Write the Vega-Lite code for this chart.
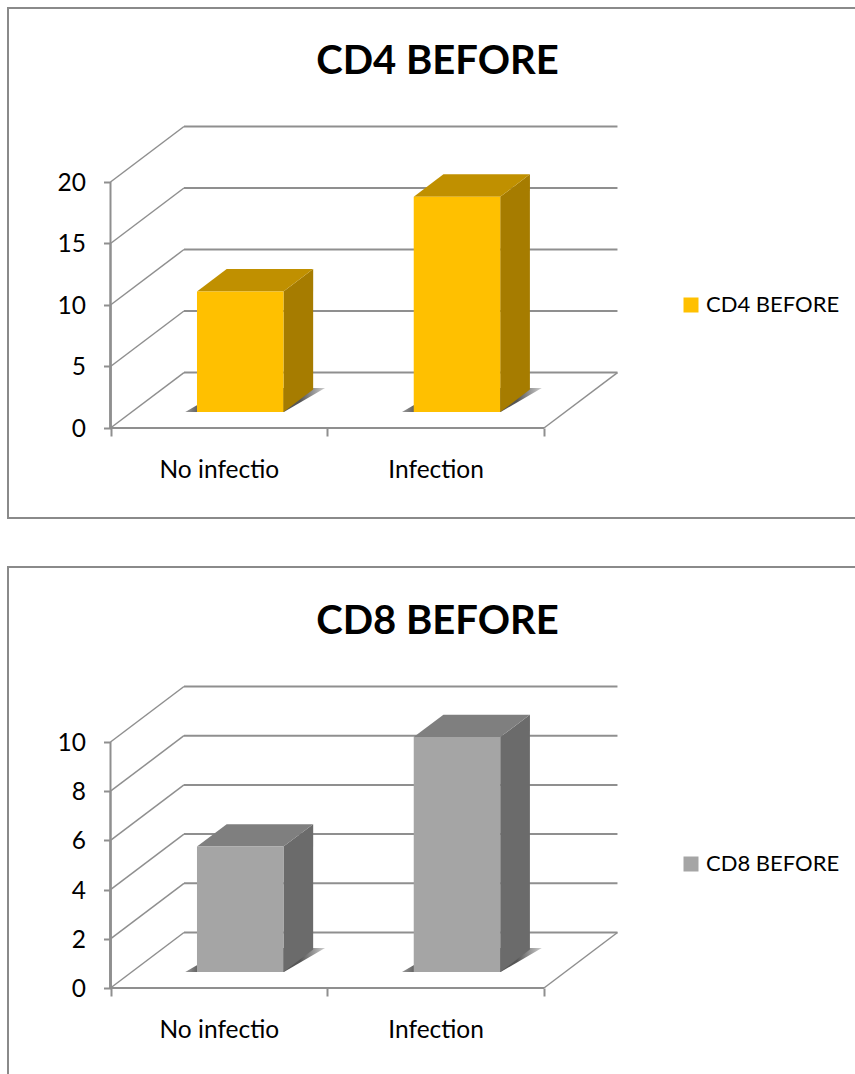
{
  "$schema": "https://vega.github.io/schema/vega-lite/v6.json",
  "padding": {"left": 7, "top": 7, "right": 0, "bottom": 0},
  "background": "white",
  "spacing": 47,
  "resolve": {"scale": {"color": "independent"}},
  "config": {
    "font": "Lato",
    "view": {"stroke": "#8a8a8a", "strokeWidth": 2},
    "axis": {"grid": false, "domain": false, "tickColor": "#8f8f8f", "tickWidth": 2, "labelColor": "#000000", "labelFont": "Lato", "labelFontSize": 24.5},
    "legend": {"title": null, "orient": "none", "symbolType": "square", "symbolSize": 225, "symbolStrokeWidth": 0, "labelFont": "Lato", "labelFontSize": 22, "labelColor": "#000000", "padding": 0},
    "title": {"font": "Lato", "fontSize": 40, "fontWeight": "bold", "color": "#000000", "frame": "group", "anchor": "middle"},
    "rule": {"color": "#8f8f8f", "strokeWidth": 2}
  },
  "datasets": {
    "cd4": [
      {"series": "CD4 BEFORE", "group": "No infectio", "value": 9.8},
      {"series": "CD4 BEFORE", "group": "Infection", "value": 17.5}
    ],
    "cd8": [
      {"series": "CD8 BEFORE", "group": "No infectio", "value": 5.1},
      {"series": "CD8 BEFORE", "group": "Infection", "value": 9.55}
    ],
    "cd4Ticks": [{"tick": 0}, {"tick": 5}, {"tick": 10}, {"tick": 15}, {"tick": 20}],
    "cd8Ticks": [{"tick": 0}, {"tick": 2}, {"tick": 4}, {"tick": 6}, {"tick": 8}, {"tick": 10}]
  },
  "vconcat": [
    {
      "width": 850,
      "height": 510,
      "title": {"text": "CD4 BEFORE", "offset": -74, "dx": 4.5},
      "layer": [
        {
          "data": {"name": "cd4Ticks"},
          "transform": [{"calculate": "0.339", "as": "bx0"}, {"calculate": "2.339", "as": "bx1"}, {"calculate": "datum.tick + 4.51", "as": "by"}],
          "mark": {"type": "rule"},
          "encoding": {
            "x": {"field": "bx0", "type": "quantitative", "scale": {"domain": [-0.4729, 3.4487], "nice": false, "zero": false},
              "axis": {"title": null, "orient": "bottom", "offset": -90, "values": [0, 0.5, 1, 1.5, 2], "tickSize": 8, "labelPadding": 34, "labelBaseline": "middle",
                "labelExpr": "datum.value === 0.5 ? 'No infectio' : datum.value === 1.5 ? 'Infection' : ''",
                "tickOpacity": {"condition": {"test": "datum.value % 1 === 0", "value": 1}, "value": 0}}},
            "x2": {"field": "bx1"},
            "y": {"field": "by", "type": "quantitative", "scale": {"domain": [-7.317, 34.146], "nice": false, "zero": false},
              "axis": {"title": null, "orient": "left", "offset": -102.5, "values": [0, 5, 10, 15, 20], "tickSize": 7, "labelPadding": 18, "labelOffset": 1.5}}
          }
        },
        {
          "data": {"name": "cd4Ticks"},
          "transform": [{"calculate": "0", "as": "fx"}, {"calculate": "0.339", "as": "bx"}, {"calculate": "datum.tick + 4.51", "as": "by"}],
          "mark": {"type": "rule", "strokeWidth": 1.5},
          "encoding": {
            "x": {"field": "fx", "type": "quantitative"},
            "x2": {"field": "bx"},
            "y": {"field": "tick", "type": "quantitative"},
            "y2": {"field": "by"}
          }
        },
        {
          "data": {"name": "cd4Ticks"},
          "transform": [{"filter": "datum.tick === 0"}, {"calculate": "2", "as": "fx"}, {"calculate": "2.339", "as": "bx"}, {"calculate": "datum.tick + 4.51", "as": "by"}],
          "mark": {"type": "rule", "strokeWidth": 1.5},
          "encoding": {
            "x": {"field": "fx", "type": "quantitative"},
            "x2": {"field": "bx"},
            "y": {"field": "tick", "type": "quantitative"},
            "y2": {"field": "by"}
          }
        },
        {
          "data": {"name": "cd4Ticks"},
          "transform": [{"filter": "datum.tick === 0"}, {"calculate": "0", "as": "x0"}, {"calculate": "2", "as": "x1"}],
          "mark": {"type": "rule"},
          "encoding": {
            "x": {"field": "x0", "type": "quantitative"},
            "x2": {"field": "x1"},
            "y": {"field": "tick", "type": "quantitative"}
          }
        },
        {
          "data": {"name": "cd4Ticks"},
          "transform": [{"calculate": "0", "as": "x0"}, {"calculate": "0", "as": "low"}],
          "mark": {"type": "rule"},
          "encoding": {
            "x": {"field": "x0", "type": "quantitative"},
            "y": {"field": "low", "type": "quantitative"},
            "y2": {"field": "tick"}
          }
        },
        {
          "data": {"name": "cd4"},
          "transform": [
            {"calculate": "datum.group === 'Infection' ? 1 : 0", "as": "slot"},
            {"calculate": "[0, 1]", "as": "step"},
            {"flatten": ["step"]},
            {"calculate": "datum.slot + 0.345 + datum.step * 0.19", "as": "sx0"},
            {"calculate": "datum.slot + 0.8 + datum.step * 0.19", "as": "sx1"},
            {"calculate": "1.3 + datum.step * 1.95", "as": "sy"}
          ],
          "mark": {"type": "area", "orient": "horizontal", "fill": {"x1": 0, "y1": 0, "x2": 1, "y2": 0, "gradient": "linear", "stops": [{"offset": 0, "color": "#9a9a9a"}, {"offset": 0.1, "color": "#5a5a5a"}, {"offset": 0.82, "color": "#555555"}, {"offset": 1, "color": "#d0d0d0"}]}},
          "encoding": {
            "y": {"field": "sy", "type": "quantitative"},
            "x": {"field": "sx0", "type": "quantitative"},
            "x2": {"field": "sx1"},
            "detail": {"field": "group"}
          }
        },
        {
          "data": {"name": "cd4"},
          "transform": [
            {"calculate": "datum.group === 'Infection' ? 1 : 0", "as": "slot"},
            {"calculate": "[0, 1]", "as": "step"},
            {"flatten": ["step"]},
            {"calculate": "datum.slot + 0.798 + datum.step * 0.137", "as": "sx"},
            {"calculate": "1.3 + datum.step * 1.82", "as": "low"},
            {"calculate": "1.3 + datum.value + datum.step * 1.82", "as": "high"}
          ],
          "mark": {"type": "area", "orient": "vertical", "fill": "#A67C00"},
          "encoding": {
            "x": {"field": "sx", "type": "quantitative"},
            "y": {"field": "low", "type": "quantitative"},
            "y2": {"field": "high"},
            "detail": {"field": "group"}
          }
        },
        {
          "data": {"name": "cd4"},
          "transform": [
            {"calculate": "datum.group === 'Infection' ? 1 : 0", "as": "slot"},
            {"calculate": "[0, 1]", "as": "step"},
            {"flatten": ["step"]},
            {"calculate": "datum.slot + 0.399 + datum.step * 0.137", "as": "tx0"},
            {"calculate": "datum.slot + 0.798 + datum.step * 0.137", "as": "tx1"},
            {"calculate": "1.3 + datum.value + datum.step * 1.82", "as": "ty"}
          ],
          "mark": {"type": "area", "orient": "horizontal", "fill": "#C09000"},
          "encoding": {
            "y": {"field": "ty", "type": "quantitative"},
            "x": {"field": "tx0", "type": "quantitative"},
            "x2": {"field": "tx1"},
            "detail": {"field": "group"}
          }
        },
        {
          "data": {"name": "cd4"},
          "transform": [
            {"calculate": "datum.group === 'Infection' ? 1 : 0", "as": "slot"},
            {"calculate": "datum.slot + 0.399", "as": "fx0"},
            {"calculate": "datum.slot + 0.798", "as": "fx1"},
            {"calculate": "1.3", "as": "low"},
            {"calculate": "1.3 + datum.value", "as": "high"}
          ],
          "mark": {"type": "rect"},
          "encoding": {
            "x": {"field": "fx0", "type": "quantitative"},
            "x2": {"field": "fx1"},
            "y": {"field": "low", "type": "quantitative"},
            "y2": {"field": "high"},
            "color": {"field": "series", "type": "nominal", "scale": {"range": ["#FFC000"]}, "legend": {"legendX": 672, "legendY": 286}}
          }
        }
      ]
    },
    {
      "width": 850,
      "height": 510,
      "title": {"text": "CD8 BEFORE", "offset": -75, "dx": 4.5},
      "layer": [
        {
          "data": {"name": "cd8Ticks"},
          "transform": [{"calculate": "0.339", "as": "bx0"}, {"calculate": "2.339", "as": "bx1"}, {"calculate": "datum.tick + 2.256", "as": "by"}],
          "mark": {"type": "rule"},
          "encoding": {
            "x": {"field": "bx0", "type": "quantitative", "scale": {"domain": [-0.4729, 3.4487], "nice": false, "zero": false},
              "axis": {"title": null, "orient": "bottom", "offset": -89, "values": [0, 0.5, 1, 1.5, 2], "tickSize": 8, "labelPadding": 34, "labelBaseline": "middle",
                "labelExpr": "datum.value === 0.5 ? 'No infectio' : datum.value === 1.5 ? 'Infection' : ''",
                "tickOpacity": {"condition": {"test": "datum.value % 1 === 0", "value": 1}, "value": 0}}},
            "x2": {"field": "bx1"},
            "y": {"field": "by", "type": "quantitative", "scale": {"domain": [-3.618, 17.114], "nice": false, "zero": false},
              "axis": {"title": null, "orient": "left", "offset": -102.5, "values": [0, 2, 4, 6, 8, 10], "tickSize": 7, "labelPadding": 18, "labelOffset": 1.5}}
          }
        },
        {
          "data": {"name": "cd8Ticks"},
          "transform": [{"calculate": "0", "as": "fx"}, {"calculate": "0.339", "as": "bx"}, {"calculate": "datum.tick + 2.256", "as": "by"}],
          "mark": {"type": "rule", "strokeWidth": 1.5},
          "encoding": {
            "x": {"field": "fx", "type": "quantitative"},
            "x2": {"field": "bx"},
            "y": {"field": "tick", "type": "quantitative"},
            "y2": {"field": "by"}
          }
        },
        {
          "data": {"name": "cd8Ticks"},
          "transform": [{"filter": "datum.tick === 0"}, {"calculate": "2", "as": "fx"}, {"calculate": "2.339", "as": "bx"}, {"calculate": "datum.tick + 2.256", "as": "by"}],
          "mark": {"type": "rule", "strokeWidth": 1.5},
          "encoding": {
            "x": {"field": "fx", "type": "quantitative"},
            "x2": {"field": "bx"},
            "y": {"field": "tick", "type": "quantitative"},
            "y2": {"field": "by"}
          }
        },
        {
          "data": {"name": "cd8Ticks"},
          "transform": [{"filter": "datum.tick === 0"}, {"calculate": "0", "as": "x0"}, {"calculate": "2", "as": "x1"}],
          "mark": {"type": "rule"},
          "encoding": {
            "x": {"field": "x0", "type": "quantitative"},
            "x2": {"field": "x1"},
            "y": {"field": "tick", "type": "quantitative"}
          }
        },
        {
          "data": {"name": "cd8Ticks"},
          "transform": [{"calculate": "0", "as": "x0"}, {"calculate": "0", "as": "low"}],
          "mark": {"type": "rule"},
          "encoding": {
            "x": {"field": "x0", "type": "quantitative"},
            "y": {"field": "low", "type": "quantitative"},
            "y2": {"field": "tick"}
          }
        },
        {
          "data": {"name": "cd8"},
          "transform": [
            {"calculate": "datum.group === 'Infection' ? 1 : 0", "as": "slot"},
            {"calculate": "[0, 1]", "as": "step"},
            {"flatten": ["step"]},
            {"calculate": "datum.slot + 0.345 + datum.step * 0.19", "as": "sx0"},
            {"calculate": "datum.slot + 0.8 + datum.step * 0.19", "as": "sx1"},
            {"calculate": "0.65 + datum.step * 0.975", "as": "sy"}
          ],
          "mark": {"type": "area", "orient": "horizontal", "fill": {"x1": 0, "y1": 0, "x2": 1, "y2": 0, "gradient": "linear", "stops": [{"offset": 0, "color": "#9a9a9a"}, {"offset": 0.1, "color": "#5a5a5a"}, {"offset": 0.82, "color": "#555555"}, {"offset": 1, "color": "#d0d0d0"}]}},
          "encoding": {
            "y": {"field": "sy", "type": "quantitative"},
            "x": {"field": "sx0", "type": "quantitative"},
            "x2": {"field": "sx1"},
            "detail": {"field": "group"}
          }
        },
        {
          "data": {"name": "cd8"},
          "transform": [
            {"calculate": "datum.group === 'Infection' ? 1 : 0", "as": "slot"},
            {"calculate": "[0, 1]", "as": "step"},
            {"flatten": ["step"]},
            {"calculate": "datum.slot + 0.798 + datum.step * 0.137", "as": "sx"},
            {"calculate": "0.65 + datum.step * 0.91", "as": "low"},
            {"calculate": "0.65 + datum.value + datum.step * 0.91", "as": "high"}
          ],
          "mark": {"type": "area", "orient": "vertical", "fill": "#6B6B6B"},
          "encoding": {
            "x": {"field": "sx", "type": "quantitative"},
            "y": {"field": "low", "type": "quantitative"},
            "y2": {"field": "high"},
            "detail": {"field": "group"}
          }
        },
        {
          "data": {"name": "cd8"},
          "transform": [
            {"calculate": "datum.group === 'Infection' ? 1 : 0", "as": "slot"},
            {"calculate": "[0, 1]", "as": "step"},
            {"flatten": ["step"]},
            {"calculate": "datum.slot + 0.399 + datum.step * 0.137", "as": "tx0"},
            {"calculate": "datum.slot + 0.798 + datum.step * 0.137", "as": "tx1"},
            {"calculate": "0.65 + datum.value + datum.step * 0.91", "as": "ty"}
          ],
          "mark": {"type": "area", "orient": "horizontal", "fill": "#7F7F7F"},
          "encoding": {
            "y": {"field": "ty", "type": "quantitative"},
            "x": {"field": "tx0", "type": "quantitative"},
            "x2": {"field": "tx1"},
            "detail": {"field": "group"}
          }
        },
        {
          "data": {"name": "cd8"},
          "transform": [
            {"calculate": "datum.group === 'Infection' ? 1 : 0", "as": "slot"},
            {"calculate": "datum.slot + 0.399", "as": "fx0"},
            {"calculate": "datum.slot + 0.798", "as": "fx1"},
            {"calculate": "0.65", "as": "low"},
            {"calculate": "0.65 + datum.value", "as": "high"}
          ],
          "mark": {"type": "rect"},
          "encoding": {
            "x": {"field": "fx0", "type": "quantitative"},
            "x2": {"field": "fx1"},
            "y": {"field": "low", "type": "quantitative"},
            "y2": {"field": "high"},
            "color": {"field": "series", "type": "nominal", "scale": {"range": ["#A5A5A5"]}, "legend": {"legendX": 672, "legendY": 286}}
          }
        }
      ]
    }
  ]
}
